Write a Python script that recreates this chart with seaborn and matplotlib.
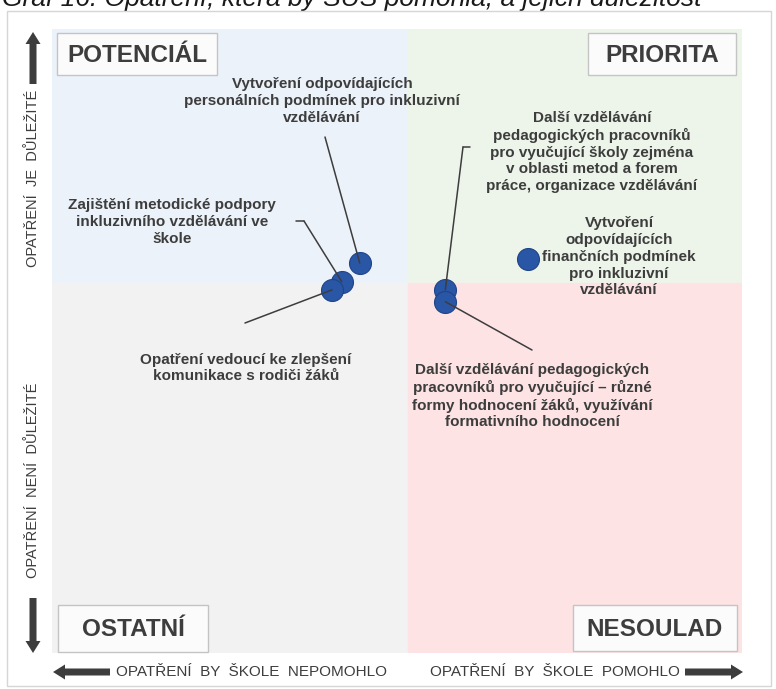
import numpy as np
import pandas as pd
import seaborn as sns
import matplotlib.pyplot as plt
from matplotlib.patches import Rectangle, FancyArrow

sns.set_theme(style="white")
plt.rcParams['font.family'] = ['Liberation Sans', 'DejaVu Sans']

# data (osa x: opatření by škole pomohlo, osa y: důležitost)
opatreni = ['personální podmínky', 'metodická podpora', 'komunikace s rodiči',
            'DVPP metody a formy', 'DVPP hodnocení', 'finanční podmínky']
pomoc = [44.6, 42.0, 40.6, 57.0, 57.0, 69.0]
dulezitost = [62.5, 59.5, 58.2, 58.2, 56.3, 63.1]
stred_x, stred_y = 51.6, 59.3

popisky = [
    'Vytvoření odpovídajících\npersonálních podmínek pro inkluzivní\nvzdělávání',
    'Zajištění metodické podpory\ninkluzivního vzdělávání ve\nškole',
    'Opatření vedoucí ke zlepšení\nkomunikace s rodiči žáků',
    'Další vzdělávání\npedagogických pracovníků\npro vyučující školy zejména\nv oblasti metod a forem\npráce, organizace vzdělávání',
    'Další vzdělávání pedagogických\npracovníků pro vyučující – různé\nformy hodnocení žáků, využívání\nformativního hodnocení',
    'Vytvoření\nodpovídajících\nfinančních podmínek\npro inkluzivní\nvzdělávání',
]

df = pd.DataFrame({'opatreni': opatreni, 'pomoc': pomoc, 'dulezitost': dulezitost})

W, H = 776, 689
fig = plt.figure(figsize=(W / 100, H / 100), dpi=100)
fig.patch.set_facecolor('white')

ax = fig.add_axes([52 / W, 36 / H, 690 / W, 624 / H])
ax.set_xlim(0, 100)
ax.set_ylim(0, 100)
ax.axis('off')

# kvadranty
ax.add_patch(Rectangle((0, stred_y), stred_x, 100 - stred_y, color='#ecf2fa', zorder=0))
ax.add_patch(Rectangle((stred_x, stred_y), 100 - stred_x, 100 - stred_y, color='#edf5ea', zorder=0))
ax.add_patch(Rectangle((0, 0), stred_x, stred_y, color='#f2f2f2', zorder=0))
ax.add_patch(Rectangle((stred_x, 0), 100 - stred_x, stred_y, color='#fde3e4', zorder=0))

sns.scatterplot(data=df, x='pomoc', y='dulezitost', ax=ax, s=250, color='#2a56a6',
                edgecolor='#1f4488', linewidth=0.8, zorder=2, legend=False)

# overlay v pixelech pro rozvržení
ov = fig.add_axes([0, 0, 1, 1], zorder=5)
ov.set_xlim(0, W)
ov.set_ylim(H, 0)
ov.axis('off')
ov.patch.set_alpha(0)

seda = '#3d3d3d'
ov.add_patch(Rectangle((7, 11), 764, 675, fill=False, edgecolor='#d6d6d6', lw=1))

fig.text(0.002, 1 - 6 / H, 'Graf 16: Opatření, která by ŠUS pomohla, a jejich důležitost',
         fontsize=19, style='italic', va='baseline', ha='left', color='#1a1a1a')

# popisky bodů a vodicí čáry
text_pos = [(322, 101), (172, 222), (246, 368), (592, 152), (532, 396), (619, 257)]
line_start = [(325, 137), (304, 221), (245, 323), (463, 147), (532, 350), None]
for i, (tx, ty) in enumerate(text_pos):
    ov.text(tx, ty, popisky[i], ha='center', va='center', fontsize=11, fontweight='bold',
            color=seda, linespacing=1.25)
    if line_start[i] is not None:
        ax.annotate('', xy=(pomoc[i], dulezitost[i]), xytext=line_start[i],
                    textcoords=ov.transData,
                    arrowprops=dict(arrowstyle='-', color=seda, lw=1.1, shrinkA=0, shrinkB=0),
                    zorder=3)
ov.plot([296, 304], [221, 221], color=seda, lw=1.1)
ov.plot([463, 470], [147, 147], color=seda, lw=1.1)

# štítky kvadrantů
boxy = [('POTENCIÁL', 57, 33, 160, 42), ('PRIORITA', 588, 33, 148, 42),
        ('OSTATNÍ', 58, 605, 150, 47), ('NESOULAD', 573, 605, 164, 46)]
for txt, bx, by, bw, bh in boxy:
    ov.add_patch(Rectangle((bx, by), bw, bh, facecolor='#fbfbfb', edgecolor='#c4c4c4', lw=1))
    ov.text(bx + bw / 2, by + bh / 2 + 1, txt, ha='center', va='center', fontsize=17.5,
            fontweight='bold', color=seda)

# šipky a popisky os
sip = dict(width=7, head_width=15, head_length=12, length_includes_head=True,
           color=seda, lw=0)
ov.add_patch(FancyArrow(33, 84, 0, -52, **sip))
ov.add_patch(FancyArrow(33, 598, 0, 55, **sip))
ov.add_patch(FancyArrow(110, 672, -57, 0, **sip))
ov.add_patch(FancyArrow(685, 672, 58, 0, **sip))

ov.text(33, 178, 'OPATŘENÍ  JE  DŮLEŽITÉ', rotation=90, ha='center', va='center',
        fontsize=10.5, color=seda)
ov.text(33, 480, 'OPATŘENÍ  NENÍ  DŮLEŽITÉ', rotation=90, ha='center', va='center',
        fontsize=10.5, color=seda)
ov.text(116, 672, 'OPATŘENÍ  BY  ŠKOLE  NEPOMOHLO', ha='left', va='center',
        fontsize=11, color=seda)
ov.text(680, 672, 'OPATŘENÍ  BY  ŠKOLE  POMOHLO', ha='right', va='center',
        fontsize=11, color=seda)

plt.savefig('out.png', dpi=100)
